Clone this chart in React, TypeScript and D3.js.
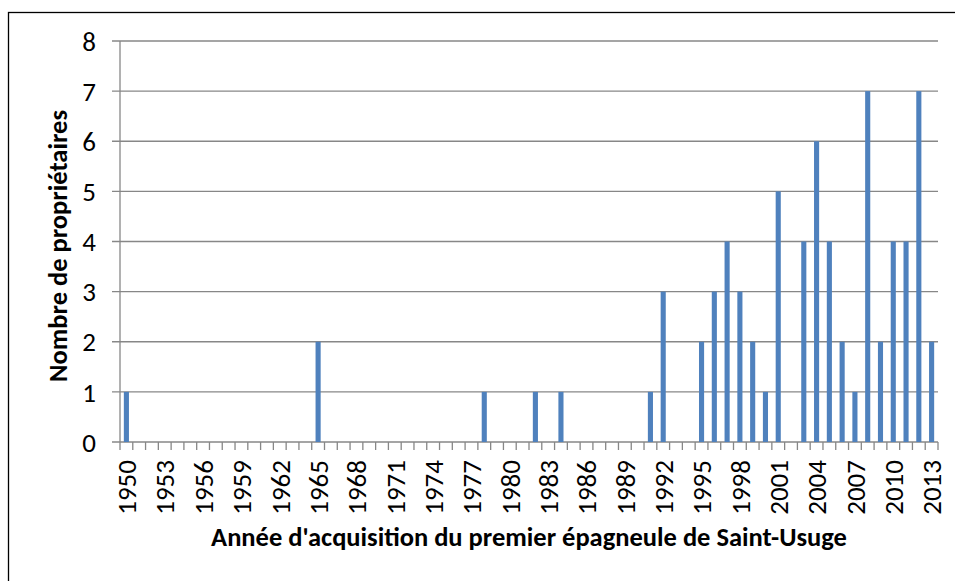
import React, { useEffect, useRef } from "react";
import * as d3 from "d3";

const years = d3.range(1950, 2014).map(String);
// number of owners per year of acquisition
const owners = [
  1, 0, 0, 0, 0, 0, 0, 0, 0, 0,
  0, 0, 0, 0, 0, 2, 0, 0, 0, 0,
  0, 0, 0, 0, 0, 0, 0, 0, 1, 0,
  0, 0, 1, 0, 1, 0, 0, 0, 0, 0,
  0, 1, 3, 0, 0, 2, 3, 4, 3, 2,
  1, 5, 0, 4, 6, 4, 2, 1, 7, 2,
  4, 4, 7, 2,
];
const yTicks = [0, 1, 2, 3, 4, 5, 6, 7, 8];
const xTitle = "Année d'acquisition du premier épagneule de Saint-Usuge";
const yTitle = "Nombre de propriétaires";

const FONT = "Carlito, Calibri, 'Liberation Sans', sans-serif";
const GRID = "#878787";

function App() {
  const ref = useRef<SVGSVGElement>(null);

  useEffect(() => {
    const svg = d3.select(ref.current);
    svg.selectAll("*").remove();

    const left = 120, right = 938, top = 41, bottom = 442;

    const x = d3.scaleBand().domain(years).range([left, right]).padding(0);
    const y = d3.scaleLinear().domain([0, 8]).range([bottom, top]);

    // outer chart border (runs off the right / bottom edge)
    svg.append("rect")
      .attr("x", 8.5).attr("y", 12.5)
      .attr("width", 1000).attr("height", 700)
      .attr("fill", "white").attr("stroke", "#000").attr("stroke-width", 1.3);

    // horizontal gridlines + y ticks
    svg.selectAll(".grid")
      .data(yTicks)
      .enter()
      .append("line")
      .attr("x1", left - 8).attr("x2", right)
      .attr("y1", (d) => y(d)).attr("y2", (d) => y(d))
      .attr("stroke", GRID).attr("stroke-width", 1.3);

    svg.selectAll(".ylab")
      .data(yTicks)
      .enter()
      .append("text")
      .attr("x", 96).attr("y", (d) => y(d))
      .attr("dy", "0.36em")
      .attr("text-anchor", "end")
      .style("font-family", FONT).style("font-size", "27px")
      .text((d) => d);

    // y axis line
    svg.append("line")
      .attr("x1", left).attr("x2", left)
      .attr("y1", top).attr("y2", bottom + 8)
      .attr("stroke", GRID).attr("stroke-width", 1.3);

    // x category ticks
    const edges = years.map((d) => x(d)!).concat([right]);
    svg.selectAll(".xtick")
      .data(edges.slice(1))
      .enter()
      .append("line")
      .attr("x1", (d) => d).attr("x2", (d) => d)
      .attr("y1", bottom).attr("y2", bottom + 8)
      .attr("stroke", GRID).attr("stroke-width", 1.3);

    // bars
    const bw = x.bandwidth() / 2.5;
    svg.selectAll(".bar")
      .data(owners)
      .enter()
      .append("rect")
      .attr("x", (d, i) => x(years[i])! + (x.bandwidth() - bw) / 2)
      .attr("y", (d) => y(d))
      .attr("width", bw)
      .attr("height", (d) => bottom - y(d))
      .style("fill", "#4F81BD");

    // x labels, every third year
    svg.selectAll(".xlab")
      .data(years.filter((d, i) => i % 3 === 0))
      .enter()
      .append("text")
      .attr("transform", (d) => `translate(${x(d)! + x.bandwidth() / 2},460) rotate(-90)`)
      .attr("dy", "0.36em")
      .attr("text-anchor", "end")
      .style("font-family", FONT).style("font-size", "27px")
      .text((d) => d);

    // axis titles
    svg.append("text")
      .attr("x", 529).attr("y", 546)
      .attr("text-anchor", "middle")
      .style("font-family", FONT).style("font-size", "26.5px").style("font-weight", "bold")
      .text(xTitle);

    svg.append("text")
      .attr("transform", "translate(67,246) rotate(-90)")
      .attr("text-anchor", "middle")
      .style("font-family", FONT).style("font-size", "26.5px").style("font-weight", "bold")
      .text(yTitle);
  }, []);

  return (
    <div>
      <svg
        ref={ref}
        width="955"
        height="581"
        style={{ position: "absolute", left: 0, top: 0, background: "white" }}
      ></svg>
    </div>
  );
}

export default App;
